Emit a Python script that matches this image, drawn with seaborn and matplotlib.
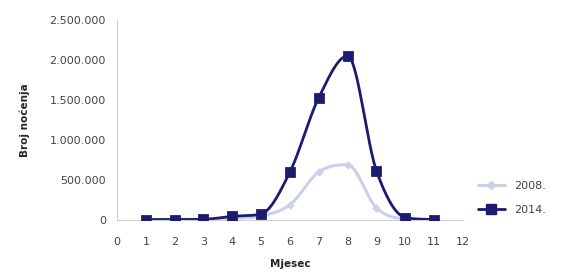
import numpy as np
import pandas as pd
import matplotlib
matplotlib.use('Agg')
import matplotlib.pyplot as plt
import matplotlib.ticker as mticker
import seaborn as sns

# data
months = [1, 2, 3, 4, 5, 6, 7, 8, 9, 10, 11]
y2008 = [2000, 3000, 5000, 20000, 50000, 190000, 600000, 690000, 150000, 12000, 2000]
y2014 = [5000, 5000, 8000, 45000, 75000, 600000, 1530000, 2050000, 615000, 30000, 4000]
series_names = ['2008.', '2014.']
colors = ['#cbcfe9', '#1b1b72']
markers = ['D', 's']


def smooth(x, y, n=30):
    # cubic hermite, catmull-rom slopes, flattened at peaks (like excel smoothed line)
    x = np.asarray(x, float)
    y = np.asarray(y, float)
    h = np.diff(x)
    d = np.diff(y) / h
    m = np.zeros_like(y)
    for i in range(1, len(y) - 1):
        if d[i - 1] * d[i] > 0:
            m[i] = (y[i + 1] - y[i - 1]) / (x[i + 1] - x[i - 1])
            lim = 3 * min(abs(d[i - 1]), abs(d[i]))
            m[i] = np.sign(m[i]) * min(abs(m[i]), lim)
    m[0], m[-1] = d[0], d[-1]
    xs, ys = [], []
    t = np.linspace(0, 1, n, endpoint=False)
    for i in range(len(x) - 1):
        h00 = 2 * t ** 3 - 3 * t ** 2 + 1
        h10 = t ** 3 - 2 * t ** 2 + t
        h01 = -2 * t ** 3 + 3 * t ** 2
        h11 = t ** 3 - t ** 2
        xs.extend(x[i] + t * h[i])
        ys.extend(h00 * y[i] + h10 * h[i] * m[i] + h01 * y[i + 1] + h11 * h[i] * m[i + 1])
    xs.append(x[-1])
    ys.append(y[-1])
    return np.array(xs), np.array(ys)


df = pd.DataFrame({'Mjesec': months * 2,
                   'val': y2008 + y2014,
                   'god': [series_names[0]] * len(months) + [series_names[1]] * len(months)})

sns.set_style('white')
plt.rcParams['font.family'] = ['DejaVu Sans']

fig = plt.figure(figsize=(5.68, 2.77), dpi=100)
ax = fig.add_axes([0.206, 0.206, 0.609, 0.722])

for name, c, m, lw, ms in zip(series_names, colors, markers, [2.2, 2.0], [4, 7]):
    sub = df[df['god'] == name]
    sx, sy = smooth(sub['Mjesec'], sub['val'])
    ax.plot(sx, sy, color=c, lw=lw, zorder=2)
    sns.scatterplot(x=sub['Mjesec'], y=sub['val'], color=c, marker=m, s=ms ** 2,
                    edgecolor=c, ax=ax, zorder=3)
    ax.plot([], [], color=c, lw=lw, marker=m, ms=ms, label=name)

ax.set_xlim(0, 12)
ax.set_ylim(0, 2500000)
ax.set_xticks(range(0, 13))
ax.set_yticks(range(0, 2500001, 500000))
ax.yaxis.set_major_formatter(mticker.FuncFormatter(lambda v, p: f'{int(v):,}'.replace(',', '.')))
ax.tick_params(axis='y', length=0, labelsize=8, colors='#444444', pad=8)
ax.tick_params(axis='x', length=0, labelsize=8, colors='#444444', pad=12)

for s in ['top', 'right']:
    ax.spines[s].set_visible(False)
for s in ['left', 'bottom']:
    ax.spines[s].set_color('#d0d0d0')
    ax.spines[s].set_linewidth(0.8)

ax.set_xlabel('Mjesec', fontsize=7.5, fontweight='bold', labelpad=9)
ax.set_ylabel('Broj noćenja', fontsize=7.5, fontweight='bold', labelpad=14)

ax.legend(loc='center left', bbox_to_anchor=(1.015, 0.11), frameon=False, fontsize=8,
          handlelength=2.4, labelspacing=1.3, labelcolor='#444444')

fig.savefig('out.png', dpi=100)
